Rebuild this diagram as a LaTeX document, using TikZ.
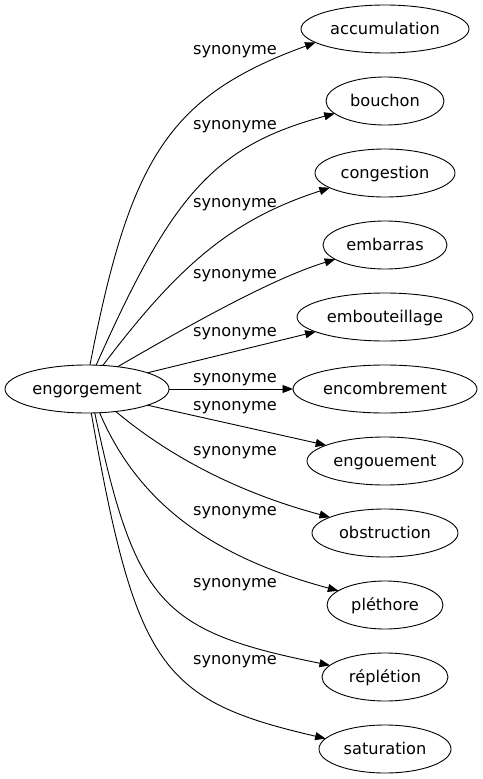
\documentclass[tikz,border=0pt]{standalone}
\usepackage{fontspec}
\setmainfont{DejaVu Sans}
\usetikzlibrary{shapes.geometric,arrows.meta}
\begin{document}
\begin{tikzpicture}[x=1pt,y=1pt,
  wordnode/.style={ellipse, draw, line width=0.9pt, inner sep=0pt, outer sep=0pt,
    minimum height=48pt, font=\fontsize{16.2}{19}\selectfont, text height=12pt, text depth=2pt},
  lbl/.style={font=\fontsize{16.2}{19}\selectfont, inner sep=0pt, text height=12pt, text depth=2pt},
  link/.style={line width=0.9pt, -{Triangle[length=10.5pt,width=8pt]}}
]
\useasboundingbox (0,0) rectangle (482,-779);
% nodes
\node[wordnode, minimum width=164pt] (eng) at (87,-389) {engorgement};
\node[wordnode, minimum width=168pt] (accumulation) at (385,-29) {accumulation};
\node[wordnode, minimum width=118pt] (bouchon) at (385,-101) {bouchon};
\node[wordnode, minimum width=140pt] (congestion) at (385,-173) {congestion};
\node[wordnode, minimum width=124pt] (embarras) at (385,-245) {embarras};
\node[wordnode, minimum width=176pt] (embouteillage) at (385,-317) {embouteillage};
\node[wordnode, minimum width=184pt] (encombrement) at (385,-389) {encombrement};
\node[wordnode, minimum width=156pt] (engouement) at (385,-461) {engouement};
\node[wordnode, minimum width=146pt] (obstruction) at (385,-533) {obstruction};
\node[wordnode, minimum width=116pt] (plethore) at (385,-605) {pléthore};
\node[wordnode, minimum width=126pt] (repletion) at (385,-677) {réplétion};
\node[wordnode, minimum width=132pt] (saturation) at (385,-749) {saturation};
% labels
\node[lbl] (l1) at (235,-49.5) {synonyme};
\node[lbl] (l2) at (235,-124.5) {synonyme};
\node[lbl] (l3) at (235,-202) {synonyme};
\node[lbl] (l4) at (235,-273) {synonyme};
\node[lbl] (l5) at (235,-331) {synonyme};
\node[lbl] (l6) at (235,-377) {synonyme};
\node[lbl] (l7) at (235,-405) {synonyme};
\node[lbl] (l8) at (235,-450.5) {synonyme};
\node[lbl] (l9) at (235,-510.5) {synonyme};
\node[lbl] (l10) at (235,-582) {synonyme};
\node[lbl] (l11) at (235,-659.5) {synonyme};
% edges
\draw[link] (eng.83) .. controls +(79:210pt) and +(200:157pt) .. (accumulation.191);
\draw[link] (eng.69) .. controls +(66:185pt) and +(195:126pt) .. (bouchon.194);
\draw[link] (eng.56) .. controls +(53:130pt) and +(198:100pt) .. (congestion.195);
\draw[link] (eng.36) .. controls +(30:70pt) and +(197:70pt) .. (embarras.196);
\draw[link] (eng.15) -- (embouteillage.192);
\draw[link] (eng) -- (encombrement);
\draw[link] (eng.-15) -- (engouement.165.5);
\draw[link] (eng.-38) .. controls +(-40:90pt) and +(165:70pt) .. (obstruction.164);
\draw[link] (eng.-62) .. controls +(-67:100pt) and +(165:128pt) .. (plethore.163);
\draw[link] (eng.-72) .. controls +(-78:195pt) and +(168.6:172pt) .. (repletion.168);
\draw[link] (eng.-80) .. controls +(-80:258pt) and +(167:169pt) .. (saturation.170);
\end{tikzpicture}
\end{document}
